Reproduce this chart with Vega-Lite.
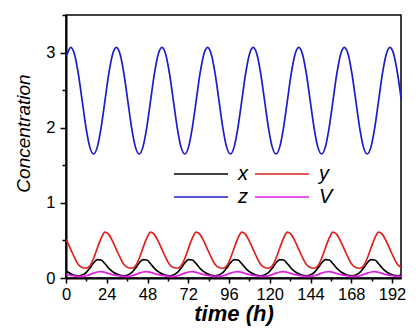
{
  "$schema": "https://vega.github.io/schema/vega-lite/v6.json",
  "width": 335,
  "height": 263,
  "autosize": {"type": "none"},
  "padding": {"left": 66, "top": 15, "right": 18, "bottom": 55},
  "background": "white",
  "config": {"view": {"stroke": "#000", "strokeWidth": 1.5}, "font": "Liberation Sans"},
  "data": {"values": [
    {"t": 0, "x": 0.09, "y": 0.51, "z": 2.95, "V": 0.047},
    {"t": 0.56, "x": 0.085, "y": 0.49, "z": 2.975, "V": 0.045},
    {"t": 2.80, "x": 0.055, "y": 0.38, "z": 3.07, "V": 0.035},
    {"t": 5.04, "x": 0.035, "y": 0.27, "z": 2.975, "V": 0.027},
    {"t": 7.28, "x": 0.03, "y": 0.18, "z": 2.715, "V": 0.022},
    {"t": 9.52, "x": 0.04, "y": 0.14, "z": 2.36, "V": 0.022},
    {"t": 11.75, "x": 0.07, "y": 0.13, "z": 2.005, "V": 0.03},
    {"t": 13.99, "x": 0.13, "y": 0.16, "z": 1.745, "V": 0.045},
    {"t": 16.23, "x": 0.20, "y": 0.26, "z": 1.65, "V": 0.065},
    {"t": 18.47, "x": 0.245, "y": 0.40, "z": 1.745, "V": 0.08},
    {"t": 20.71, "x": 0.24, "y": 0.53, "z": 2.005, "V": 0.085},
    {"t": 22.95, "x": 0.19, "y": 0.61, "z": 2.36, "V": 0.075},
    {"t": 25.18, "x": 0.13, "y": 0.58, "z": 2.715, "V": 0.06},
    {"t": 27.42, "x": 0.085, "y": 0.49, "z": 2.975, "V": 0.045},
    {"t": 29.66, "x": 0.055, "y": 0.38, "z": 3.07, "V": 0.035},
    {"t": 31.90, "x": 0.035, "y": 0.27, "z": 2.975, "V": 0.027},
    {"t": 34.14, "x": 0.03, "y": 0.18, "z": 2.715, "V": 0.022},
    {"t": 36.38, "x": 0.04, "y": 0.14, "z": 2.36, "V": 0.022},
    {"t": 38.61, "x": 0.07, "y": 0.13, "z": 2.005, "V": 0.03},
    {"t": 40.85, "x": 0.13, "y": 0.16, "z": 1.745, "V": 0.045},
    {"t": 43.09, "x": 0.20, "y": 0.26, "z": 1.65, "V": 0.065},
    {"t": 45.33, "x": 0.245, "y": 0.40, "z": 1.745, "V": 0.08},
    {"t": 47.57, "x": 0.24, "y": 0.53, "z": 2.005, "V": 0.085},
    {"t": 49.81, "x": 0.19, "y": 0.61, "z": 2.36, "V": 0.075},
    {"t": 52.04, "x": 0.13, "y": 0.58, "z": 2.715, "V": 0.06},
    {"t": 54.28, "x": 0.085, "y": 0.49, "z": 2.975, "V": 0.045},
    {"t": 56.52, "x": 0.055, "y": 0.38, "z": 3.07, "V": 0.035},
    {"t": 58.76, "x": 0.035, "y": 0.27, "z": 2.975, "V": 0.027},
    {"t": 61.00, "x": 0.03, "y": 0.18, "z": 2.715, "V": 0.022},
    {"t": 63.24, "x": 0.04, "y": 0.14, "z": 2.36, "V": 0.022},
    {"t": 65.47, "x": 0.07, "y": 0.13, "z": 2.005, "V": 0.03},
    {"t": 67.71, "x": 0.13, "y": 0.16, "z": 1.745, "V": 0.045},
    {"t": 69.95, "x": 0.20, "y": 0.26, "z": 1.65, "V": 0.065},
    {"t": 72.19, "x": 0.245, "y": 0.40, "z": 1.745, "V": 0.08},
    {"t": 74.43, "x": 0.24, "y": 0.53, "z": 2.005, "V": 0.085},
    {"t": 76.67, "x": 0.19, "y": 0.61, "z": 2.36, "V": 0.075},
    {"t": 78.90, "x": 0.13, "y": 0.58, "z": 2.715, "V": 0.06},
    {"t": 81.14, "x": 0.085, "y": 0.49, "z": 2.975, "V": 0.045},
    {"t": 83.38, "x": 0.055, "y": 0.38, "z": 3.07, "V": 0.035},
    {"t": 85.62, "x": 0.035, "y": 0.27, "z": 2.975, "V": 0.027},
    {"t": 87.86, "x": 0.03, "y": 0.18, "z": 2.715, "V": 0.022},
    {"t": 90.10, "x": 0.04, "y": 0.14, "z": 2.36, "V": 0.022},
    {"t": 92.33, "x": 0.07, "y": 0.13, "z": 2.005, "V": 0.03},
    {"t": 94.57, "x": 0.13, "y": 0.16, "z": 1.745, "V": 0.045},
    {"t": 96.81, "x": 0.20, "y": 0.26, "z": 1.65, "V": 0.065},
    {"t": 99.05, "x": 0.245, "y": 0.40, "z": 1.745, "V": 0.08},
    {"t": 101.29, "x": 0.24, "y": 0.53, "z": 2.005, "V": 0.085},
    {"t": 103.53, "x": 0.19, "y": 0.61, "z": 2.36, "V": 0.075},
    {"t": 105.76, "x": 0.13, "y": 0.58, "z": 2.715, "V": 0.06},
    {"t": 108.00, "x": 0.085, "y": 0.49, "z": 2.975, "V": 0.045},
    {"t": 110.24, "x": 0.055, "y": 0.38, "z": 3.07, "V": 0.035},
    {"t": 112.48, "x": 0.035, "y": 0.27, "z": 2.975, "V": 0.027},
    {"t": 114.72, "x": 0.03, "y": 0.18, "z": 2.715, "V": 0.022},
    {"t": 116.96, "x": 0.04, "y": 0.14, "z": 2.36, "V": 0.022},
    {"t": 119.19, "x": 0.07, "y": 0.13, "z": 2.005, "V": 0.03},
    {"t": 121.43, "x": 0.13, "y": 0.16, "z": 1.745, "V": 0.045},
    {"t": 123.67, "x": 0.20, "y": 0.26, "z": 1.65, "V": 0.065},
    {"t": 125.91, "x": 0.245, "y": 0.40, "z": 1.745, "V": 0.08},
    {"t": 128.15, "x": 0.24, "y": 0.53, "z": 2.005, "V": 0.085},
    {"t": 130.39, "x": 0.19, "y": 0.61, "z": 2.36, "V": 0.075},
    {"t": 132.62, "x": 0.13, "y": 0.58, "z": 2.715, "V": 0.06},
    {"t": 134.86, "x": 0.085, "y": 0.49, "z": 2.975, "V": 0.045},
    {"t": 137.10, "x": 0.055, "y": 0.38, "z": 3.07, "V": 0.035},
    {"t": 139.34, "x": 0.035, "y": 0.27, "z": 2.975, "V": 0.027},
    {"t": 141.58, "x": 0.03, "y": 0.18, "z": 2.715, "V": 0.022},
    {"t": 143.82, "x": 0.04, "y": 0.14, "z": 2.36, "V": 0.022},
    {"t": 146.05, "x": 0.07, "y": 0.13, "z": 2.005, "V": 0.03},
    {"t": 148.29, "x": 0.13, "y": 0.16, "z": 1.745, "V": 0.045},
    {"t": 150.53, "x": 0.20, "y": 0.26, "z": 1.65, "V": 0.065},
    {"t": 152.77, "x": 0.245, "y": 0.40, "z": 1.745, "V": 0.08},
    {"t": 155.01, "x": 0.24, "y": 0.53, "z": 2.005, "V": 0.085},
    {"t": 157.25, "x": 0.19, "y": 0.61, "z": 2.36, "V": 0.075},
    {"t": 159.48, "x": 0.13, "y": 0.58, "z": 2.715, "V": 0.06},
    {"t": 161.72, "x": 0.085, "y": 0.49, "z": 2.975, "V": 0.045},
    {"t": 163.96, "x": 0.055, "y": 0.38, "z": 3.07, "V": 0.035},
    {"t": 166.20, "x": 0.035, "y": 0.27, "z": 2.975, "V": 0.027},
    {"t": 168.44, "x": 0.03, "y": 0.18, "z": 2.715, "V": 0.022},
    {"t": 170.68, "x": 0.04, "y": 0.14, "z": 2.36, "V": 0.022},
    {"t": 172.91, "x": 0.07, "y": 0.13, "z": 2.005, "V": 0.03},
    {"t": 175.15, "x": 0.13, "y": 0.16, "z": 1.745, "V": 0.045},
    {"t": 177.39, "x": 0.20, "y": 0.26, "z": 1.65, "V": 0.065},
    {"t": 179.63, "x": 0.245, "y": 0.40, "z": 1.745, "V": 0.08},
    {"t": 181.87, "x": 0.24, "y": 0.53, "z": 2.005, "V": 0.085},
    {"t": 184.11, "x": 0.19, "y": 0.61, "z": 2.36, "V": 0.075},
    {"t": 186.34, "x": 0.13, "y": 0.58, "z": 2.715, "V": 0.06},
    {"t": 188.58, "x": 0.085, "y": 0.49, "z": 2.975, "V": 0.045},
    {"t": 190.82, "x": 0.055, "y": 0.38, "z": 3.07, "V": 0.035},
    {"t": 193.06, "x": 0.035, "y": 0.27, "z": 2.975, "V": 0.027},
    {"t": 195.30, "x": 0.03, "y": 0.18, "z": 2.715, "V": 0.022},
    {"t": 197.54, "x": 0.04, "y": 0.14, "z": 2.36, "V": 0.022}
  ]},
  "transform": [{"fold": ["x", "y", "z", "V"], "as": ["series", "value"]}],
  "mark": {"type": "line", "interpolate": "monotone", "clip": true, "strokeWidth": 1.7},
  "encoding": {
    "x": {
      "field": "t", "type": "quantitative",
      "scale": {"domain": [0, 197.3], "nice": false, "zero": false},
      "axis": {
        "values": [0, 12, 24, 36, 48, 60, 72, 84, 96, 108, 120, 132, 144, 156, 168, 180, 192],
        "labelExpr": "datum.value % 24 === 0 ? datum.label : ''",
        "grid": false, "domainColor": "#000", "domainWidth": 2,
        "tickColor": "#000", "tickWidth": 1.5,
        "tickSize": {"condition": {"test": "datum.value % 24 === 0", "value": 5}, "value": 3},
        "labelFontSize": 16.5, "labelColor": "#000", "labelPadding": 3, "labelFlush": false,
        "title": "time (h)", "titleFontSize": 22, "titleFontStyle": "italic", "titleFontWeight": "bold",
        "titleColor": "#000", "titlePadding": 1
      }
    },
    "y": {
      "field": "value", "type": "quantitative",
      "scale": {"domain": [0, 3.5], "nice": false},
      "axis": {
        "values": [0, 0.5, 1, 1.5, 2, 2.5, 3, 3.5],
        "labelExpr": "datum.value % 1 === 0 ? format(datum.value, 'd') : ''",
        "grid": false, "domainColor": "#000", "domainWidth": 2,
        "tickColor": "#000", "tickWidth": 1.5,
        "tickSize": {"condition": {"test": "datum.value % 1 === 0", "value": 6}, "value": 4},
        "labelFontSize": 16.5, "labelColor": "#000", "labelPadding": 5, "labelFlush": false,
        "title": "Concentration", "titleFontSize": 19, "titleFontStyle": "italic", "titleFontWeight": "normal",
        "titleColor": "#000", "titlePadding": 12, "titleY": 118
      }
    },
    "color": {
      "field": "series", "type": "nominal",
      "scale": {"domain": ["x", "y", "z", "V"], "range": ["#000000", "#e02020", "#1c1cc8", "#e020e0"]},
      "legend": {
        "orient": "none", "legendX": 124, "legendY": 148, "columns": 2, "direction": "horizontal", "title": null,
        "symbolType": "M-2.7,0H2.7", "symbolSize": 400, "symbolStrokeWidth": 1.5,
        "labelFontSize": 20, "labelFontStyle": "italic", "labelColor": "#000", "labelOffset": 26,
        "columnPadding": 4, "rowPadding": 2, "padding": 0
      }
    }
  }
}
